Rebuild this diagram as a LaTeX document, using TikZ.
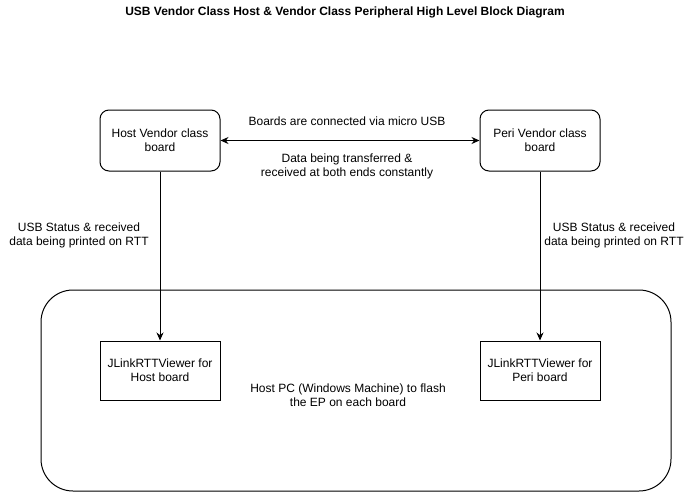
\documentclass[tikz,border=0pt]{standalone}
\usepackage{fontspec}
\setmainfont{Liberation Sans}
\usetikzlibrary{arrows.meta}
\tikzset{x=1pt, y=-1pt,
every node/.style={font=\fontsize{12}{14}\selectfont},
board/.style={ % the two boards on top
draw, line width=1pt,
rounded corners=9pt,
minimum width=120pt, minimum height=61pt,
align=center},
viewer/.style={ % RTT viewer windows
draw, line width=1pt,
minimum width=120pt, minimum height=59pt,
align=center},
note/.style={align=center, inner sep=0pt},
every edge/.style={ % connectors
draw,
-{Stealth[length=8pt,width=7pt]},
line width=1pt}}

\begin{document}
\begin{tikzpicture}
\useasboundingbox (0,0) rectangle (691,501);
\node[note, font=\fontsize{12}{14}\selectfont\bfseries] (title) at (345,12) {USB Vendor Class Host \& Vendor Class Peripheral High Level Block Diagram};
% host PC
\draw[line width=1pt, rounded corners=32pt] (41,290) rectangle (671,491);
\node[note] (pclabel) at (348,395) {Host PC (Windows Machine) to flash\\the EP on each board};
% boards
\node[board] (host) at (160,140.5) {Host Vendor class\\board};
\node[board] (peri) at (540,140.5) {Peri Vendor class\\board};
\node[viewer] (hostrtt) at (160,370.5) {JLinkRTTViewer for\\Host board};
\node[viewer] (perirtt) at (540,370.5) {JLinkRTTViewer for\\Peri board};
% labels
\node[note] (usb) at (347,121) {Boards are connected via micro USB};
\node[note] (data) at (347,166) {Data being transferred \&\\received at both ends constantly};
\node[note] (hoststatus) at (79,235) {USB Status \& received\\data being printed on RTT};
\node[note] (peristatus) at (614,235) {USB Status \& received\\data being printed on RTT};
% connections
\draw (host) edge[{Stealth[length=8pt,width=7pt]}-{Stealth[length=8pt,width=7pt]}] (peri);
\draw (host) edge (hostrtt);
\draw (peri) edge (perirtt);
\end{tikzpicture}
\end{document}
